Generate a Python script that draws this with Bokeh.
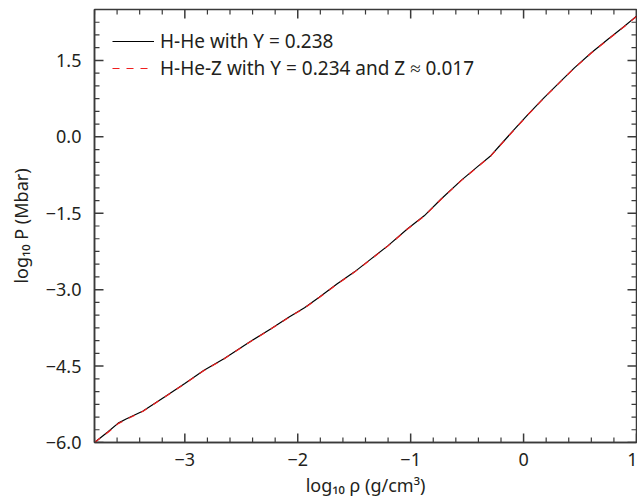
import numpy as np
from bokeh.plotting import figure
from bokeh.models import (LinearAxis, FixedTicker, CustomJSTickFormatter, Legend, LegendItem, Range1d)
from bokeh.embed import file_html
from bokeh.resources import INLINE

# --- data ---
log_rho = [-3.80, -3.68, -3.59, -3.52, -3.37, -3.18, -3.00, -2.83, -2.65, -2.43, -2.24,
           -2.08, -1.94, -1.81, -1.65, -1.50, -1.35, -1.20, -1.03, -0.88, -0.73, -0.55,
           -0.41, -0.29, -0.20, -0.08, 0.04, 0.18, 0.33, 0.45, 0.60, 0.75, 0.89, 1.00]
logP_HHe = [-6.00, -5.79, -5.62, -5.54, -5.38, -5.105, -4.84, -4.58, -4.35, -4.03, -3.77,
            -3.54, -3.355, -3.15, -2.885, -2.655, -2.395, -2.135, -1.81, -1.55, -1.22, -0.85,
            -0.59, -0.37, -0.145, 0.15, 0.44, 0.765, 1.095, 1.355, 1.65, 1.92, 2.165, 2.37]
logP_HHeZ = [-6.00, -5.80, -5.63, -5.55, -5.385, -5.11, -4.845, -4.585, -4.355, -4.035, -3.775,
             -3.545, -3.36, -3.155, -2.89, -2.66, -2.40, -2.14, -1.815, -1.555, -1.225, -0.855,
             -0.595, -0.375, -0.15, 0.145, 0.435, 0.76, 1.09, 1.35, 1.645, 1.915, 2.16, 2.365]
label_HHe = "H-He with Y = 0.238"
label_HHeZ = "H-He-Z with Y = 0.234 and Z ≈ 0.017"
x_major = [-3, -2, -1, 0, 1]
y_major = [-6.0, -4.5, -3.0, -1.5, 0.0, 1.5]
x_label = "log₁₀ ρ (g/cm³)"
y_label = "log₁₀ P (Mbar)"
X0, X1 = -3.8, 1.0
Y0, Y1 = -6.0, 2.5

FONT = "Noto Sans"
FS = "18px"
TXT = "#231f20"
AX = "#3a3a3a"

p = figure(frame_width=542, frame_height=433, output_backend="svg", toolbar_location=None,
           x_range=Range1d(X0, X1), y_range=Range1d(Y0, Y1),
           min_border_left=94, min_border_right=1, min_border_top=9, min_border_bottom=60,
           x_axis_location=None, y_axis_location=None)
p.grid.visible = False
p.background_fill_color = "white"
p.border_fill_color = "white"
p.outline_line_color = AX
p.outline_line_width = 1.5

x_minor = [round(v, 2) for v in np.arange(X0, X1 + 0.001, 0.2) if round(v, 2) not in x_major]
y_minor = [round(v, 2) for v in np.arange(Y0, Y1 + 0.001, 0.25) if round(v, 2) not in y_major]
xt = FixedTicker(ticks=x_major, minor_ticks=[])
yt = FixedTicker(ticks=y_major, minor_ticks=[])

fx = CustomJSTickFormatter(code="return (tick < 0 ? '\u2212' : '') + Math.abs(tick).toFixed(0);")
fy = CustomJSTickFormatter(code="return (tick < 0 ? '\u2212' : '') + Math.abs(tick).toFixed(1);")

def style(ax):
    ax.axis_line_color = AX
    ax.axis_line_width = 1.5
    ax.major_tick_in = 0
    ax.major_tick_out = 0
    ax.minor_tick_in = 0
    ax.minor_tick_out = 0
    ax.major_label_text_font = FONT
    ax.major_label_text_font_size = FS
    ax.major_label_text_color = TXT
    ax.axis_label_text_font = FONT
    ax.axis_label_text_font_size = FS
    ax.axis_label_text_font_style = "normal"
    ax.axis_label_text_color = TXT

xb = LinearAxis(ticker=xt, formatter=fx, axis_label=x_label)
style(xb)
xb.major_label_standoff = 10
xb.axis_label_standoff = 4
yl = LinearAxis(ticker=yt, formatter=fy, axis_label=y_label)
style(yl)
yl.major_label_standoff = 13
yl.axis_label_standoff = 10
p.add_layout(xb, "below")
p.add_layout(yl, "left")

# inward ticks on all four sides
MAJ, MIN = 9, 5
tk = dict(line_color=AX, length_units="screen")
p.ray(x=x_major, y=Y0, length=MAJ, angle=np.pi / 2, line_width=1.5, **tk)
p.ray(x=x_major, y=Y1, length=MAJ, angle=-np.pi / 2, line_width=1.5, **tk)
p.ray(x=x_minor, y=Y0, length=MIN, angle=np.pi / 2, line_width=1.2, **tk)
p.ray(x=x_minor, y=Y1, length=MIN, angle=-np.pi / 2, line_width=1.2, **tk)
p.ray(x=X0, y=y_major, length=MAJ, angle=0, line_width=1.5, **tk)
p.ray(x=X1, y=y_major, length=MAJ, angle=np.pi, line_width=1.5, **tk)
p.ray(x=X0, y=y_minor, length=MIN, angle=0, line_width=1.2, **tk)
p.ray(x=X1, y=y_minor, length=MIN, angle=np.pi, line_width=1.2, **tk)

r1 = p.line(log_rho, logP_HHe, line_color="black", line_width=1.2)
r2 = p.line(log_rho, logP_HHeZ, line_color="#f01e1e", line_width=1.2, line_dash="7 7")

legend = Legend(items=[LegendItem(label=label_HHe, renderers=[r1]),
                       LegendItem(label=label_HHeZ, renderers=[r2])],
                location=(18, 361))
legend.border_line_color = None
legend.background_fill_alpha = 0
legend.margin = 0
legend.padding = 0
legend.glyph_width = 42
legend.glyph_height = 26
legend.label_height = 26
legend.spacing = 1
legend.label_standoff = 6
legend.label_text_font = FONT
legend.label_text_font_size = "19px"
legend.label_text_color = TXT
p.add_layout(legend)

open("out.html", "w").write(file_html(p, INLINE))
